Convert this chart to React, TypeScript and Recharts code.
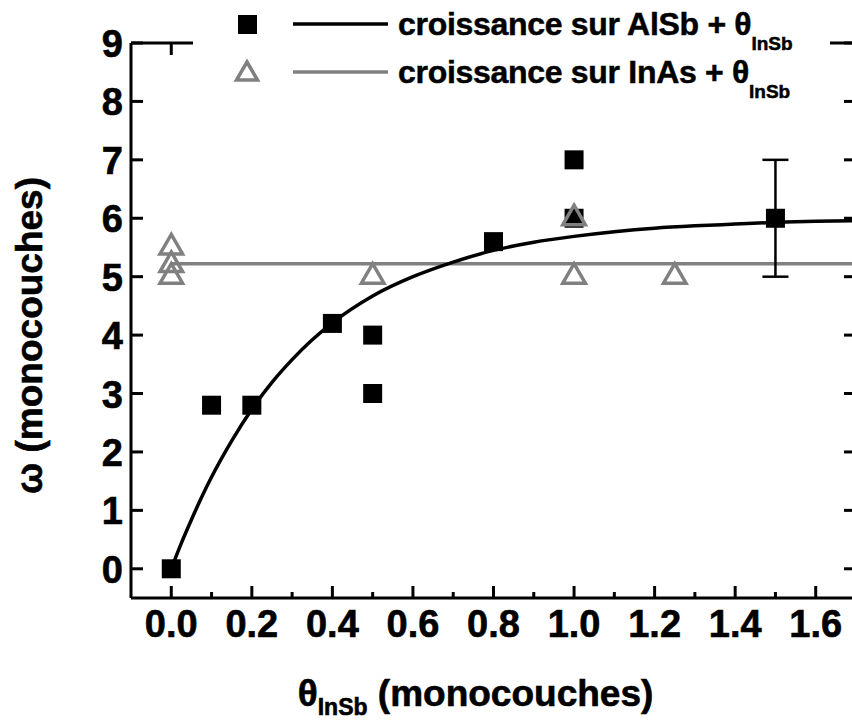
import {
  ComposedChart,
  ErrorBar,
  Label,
  Legend,
  Line,
  Scatter,
  XAxis,
  YAxis,
  ZAxis,
} from 'recharts'

// measured points, growth on AlSb (err only on the 1.5 point)
const alsbPoints = [
  { x: 0, y: 0, err: 0 },
  { x: 0.1, y: 2.8, err: 0 },
  { x: 0.2, y: 2.8, err: 0 },
  { x: 0.4, y: 4.2, err: 0 },
  { x: 0.5, y: 4.0, err: 0 },
  { x: 0.5, y: 3.0, err: 0 },
  { x: 0.8, y: 5.6, err: 0 },
  { x: 1.0, y: 7.0, err: 0 },
  { x: 1.0, y: 6.0, err: 0 },
  { x: 1.5, y: 6.0, err: 1 },
]

// measured points, growth on InAs
const inasPoints = [
  { x: 0, y: 5.5 },
  { x: 0, y: 5.2 },
  { x: 0, y: 5.0 },
  { x: 0.5, y: 5.0 },
  { x: 1.0, y: 6.0 },
  { x: 1.0, y: 5.0 },
  { x: 1.25, y: 5.0 },
]

// fitted curve (AlSb)
const alsbFit = [
  { x: 0, y: 0 },
  { x: 0.025, y: 0.44 },
  { x: 0.05, y: 0.84 },
  { x: 0.075, y: 1.22 },
  { x: 0.1, y: 1.57 },
  { x: 0.15, y: 2.19 },
  { x: 0.2, y: 2.73 },
  { x: 0.25, y: 3.19 },
  { x: 0.3, y: 3.58 },
  { x: 0.35, y: 3.92 },
  { x: 0.4, y: 4.21 },
  { x: 0.5, y: 4.67 },
  { x: 0.6, y: 5.0 },
  { x: 0.7, y: 5.25 },
  { x: 0.8, y: 5.45 },
  { x: 0.9, y: 5.59 },
  { x: 1.0, y: 5.69 },
  { x: 1.1, y: 5.77 },
  { x: 1.2, y: 5.83 },
  { x: 1.3, y: 5.87 },
  { x: 1.4, y: 5.9 },
  { x: 1.5, y: 5.93 },
  { x: 1.6, y: 5.95 },
  { x: 1.7, y: 5.96 },
]

// flat fit (InAs)
const inasFit = [
  { x: 0, y: 5.22 },
  { x: 1.7, y: 5.22 },
]

const xTicks = [0, 0.1, 0.2, 0.3, 0.4, 0.5, 0.6, 0.7, 0.8, 0.9, 1.0, 1.1, 1.2, 1.3, 1.4, 1.5, 1.6]
const yTicks = [0, 1, 2, 3, 4, 5, 6, 7, 8, 9]
const legendLabels = ['croissance sur AlSb + θ', 'croissance sur InAs + θ']
const legendSub = 'InSb'

const FONT = '"Liberation Sans", Arial, Helvetica, sans-serif'
const GREY = '#808080'

const isMajor = (v: number) => Math.round(v * 10) % 2 === 0

// a thin outline makes the bold face look as heavy as the original
const heavy = { stroke: '#000', strokeWidth: 0.6 }

function BottomTick({ x, y, payload }: any) {
  const major = isMajor(payload.value)
  return (
    <g>
      <line x1={x} x2={x} y1={y} y2={y - (major ? 12 : 6)} stroke="#000" strokeWidth={3} />
      {major && (
        <text x={x} y={y + 39} textAnchor="middle" fontFamily={FONT} fontWeight="bold" fontSize={38} fill="#000" {...heavy}>
          {payload.value.toFixed(1)}
        </text>
      )}
    </g>
  )
}

function TopTick({ x, y, payload }: any) {
  const major = isMajor(payload.value)
  return <line x1={x} x2={x} y1={y} y2={y + (major ? 12 : 6)} stroke="#000" strokeWidth={3} />
}

function LeftTick({ x, y, payload }: any) {
  return (
    <g>
      <line x1={x} x2={x + 12} y1={y} y2={y} stroke="#000" strokeWidth={3} />
      <text x={x - 8} y={y + 14} textAnchor="end" fontFamily={FONT} fontWeight="bold" fontSize={38} fill="#000" {...heavy}>
        {payload.value}
      </text>
    </g>
  )
}

function RightTick({ x, y }: any) {
  return <line x1={x} x2={x - 12} y1={y} y2={y} stroke="#000" strokeWidth={3} />
}

function XTitle({ viewBox }: any) {
  const cx = viewBox.x + viewBox.width / 2 - 18
  return (
    <text x={cx} y={706} textAnchor="middle" fontFamily={FONT} fontWeight="bold" fontSize={37} fill="#000" {...heavy}>
      θ
      <tspan fontSize={23} dy={9}>InSb</tspan>
      <tspan dy={-9}> (monocouches)</tspan>
    </text>
  )
}

function YTitle({ viewBox }: any) {
  const cy = viewBox.y + viewBox.height / 2 + 15
  const x = 42
  return (
    <text
      x={x}
      y={cy}
      transform={`rotate(-90 ${x} ${cy})`}
      textAnchor="middle"
      fontFamily={FONT}
      fontWeight="bold"
      fontSize={37}
      fill="#000"
      {...heavy}
    >
      ω (monocouches)
    </text>
  )
}

function FigLegend() {
  const rows = [0, 1]
  return (
    <svg width={637} height={104}>
      {rows.map((i) => {
        const cy = 24 + i * 48
        return (
          <g key={i}>
            {i === 0 ? (
              <rect x={45} y={cy - 9} width={19} height={19} fill="#000" />
            ) : (
              <path
                d={`M54 ${cy - 10} L64.5 ${cy + 8} L43.5 ${cy + 8} Z`}
                fill="none"
                stroke={GREY}
                strokeWidth={3.5}
              />
            )}
            <line x1={100} x2={195} y1={cy} y2={cy} stroke={i === 0 ? '#000' : GREY} strokeWidth={3.5} />
            <text
              x={205}
              y={cy + 11}
              fontFamily={FONT}
              fontWeight="bold"
              fontSize={32}
              letterSpacing={-0.3}
              fill="#000"
              stroke="#000"
              strokeWidth={0.5}
            >
              {legendLabels[i]}
              <tspan fontSize={19} dy={15} letterSpacing={0}>{legendSub}</tspan>
            </text>
          </g>
        )
      })}
    </svg>
  )
}

export default function App() {
  return (
    <div
      style={{
        position: 'fixed',
        left: 0,
        top: 0,
        width: 852,
        height: 720,
        overflow: 'hidden',
        background: '#fff',
      }}
    >
      <ComposedChart width={870} height={720} margin={{ top: 42, right: 13, bottom: 121, left: 130 }}>
        <XAxis
          xAxisId="bottom"
          dataKey="x"
          type="number"
          domain={[-0.1, 1.7]}
          ticks={xTicks}
          tick={<BottomTick />}
          tickSize={0}
          tickMargin={0}
          tickLine={false}
          height={1}
          axisLine={{ stroke: '#000', strokeWidth: 3 }}
          interval={0}
          allowDataOverflow
        >
          <Label content={<XTitle />} />
        </XAxis>
        <XAxis
          xAxisId="top"
          orientation="top"
          dataKey="x"
          type="number"
          domain={[-0.1, 1.7]}
          ticks={xTicks}
          tick={<TopTick />}
          tickSize={0}
          tickMargin={0}
          tickLine={false}
          height={1}
          axisLine={{ stroke: '#000', strokeWidth: 3 }}
          interval={0}
          allowDataOverflow
        />
        <YAxis
          yAxisId="left"
          type="number"
          domain={[-0.5, 9]}
          ticks={yTicks}
          tick={<LeftTick />}
          tickSize={0}
          tickMargin={0}
          tickLine={false}
          width={1}
          axisLine={{ stroke: '#000', strokeWidth: 3 }}
          interval={0}
          allowDataOverflow
        >
          <Label content={<YTitle />} />
        </YAxis>
        <YAxis
          yAxisId="right"
          orientation="right"
          type="number"
          domain={[-0.5, 9]}
          ticks={yTicks}
          tick={<RightTick />}
          tickSize={0}
          tickMargin={0}
          tickLine={false}
          width={1}
          axisLine={{ stroke: '#000', strokeWidth: 3 }}
          interval={0}
          allowDataOverflow
        />
        <ZAxis zAxisId="sq" range={[361, 361]} />
        <ZAxis zAxisId="tri" range={[220, 220]} />
        <Line
          xAxisId="bottom"
          yAxisId="left"
          data={inasFit}
          dataKey="y"
          type="linear"
          stroke={GREY}
          strokeWidth={3.5}
          dot={false}
          activeDot={false}
          isAnimationActive={false}
          legendType="none"
        />
        <Line
          xAxisId="bottom"
          yAxisId="left"
          data={alsbFit}
          dataKey="y"
          type="monotone"
          stroke="#000"
          strokeWidth={3.5}
          dot={false}
          activeDot={false}
          isAnimationActive={false}
          legendType="none"
        />
        <Scatter
          xAxisId="bottom"
          yAxisId="left"
          zAxisId="sq"
          data={alsbPoints}
          dataKey="y"
          shape="square"
          fill="#000"
          isAnimationActive={false}
        >
          <ErrorBar dataKey="err" direction="y" width={13} stroke="#000" strokeWidth={2.5} />
        </Scatter>
        <Scatter
          xAxisId="bottom"
          yAxisId="left"
          zAxisId="tri"
          data={inasPoints}
          dataKey="y"
          shape="triangle"
          fill="none"
          stroke={GREY}
          strokeWidth={3.5}
          isAnimationActive={false}
        />
        <Legend
          layout="horizontal"
          verticalAlign="middle"
          align="center"
          content={<FigLegend />}
          wrapperStyle={{ left: 193, top: 0, width: 637, height: 104, background: '#fff' }}
        />
      </ComposedChart>
    </div>
  )
}
